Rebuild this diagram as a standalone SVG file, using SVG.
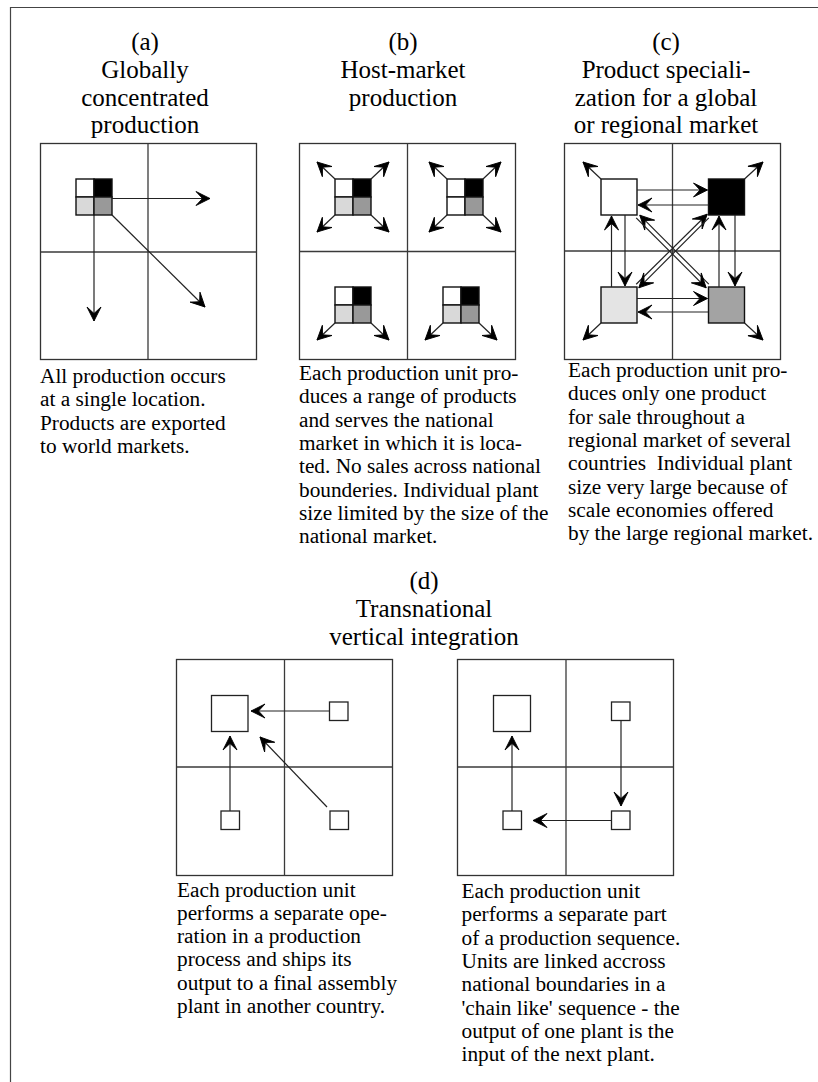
<svg xmlns="http://www.w3.org/2000/svg" width="818" height="1082" viewBox="0 0 818 1082">
<style>
  .t { font-family: "Liberation Serif", "Times New Roman", serif; fill: #000; }
  .title { font-size: 25px; text-anchor: middle; }
  .desc { font-size: 21.3px; white-space: pre; }
  .box { fill: none; stroke: #333; stroke-width: 1.3; }
  .div { stroke: #3a3a3a; stroke-width: 1.3; fill: none; }
  .cell { stroke: #111; stroke-width: 1.4; }
  .plant { fill: #fff; stroke: #222; stroke-width: 1.3; }
  .arr { stroke: #222; stroke-width: 1.2; fill: none; marker-end: url(#ah); }
  .w { fill: #fff; } .k { fill: #000; } .l { fill: #d9d9d9; } .g { fill: #999; }
</style>
<defs>
  <marker id="ah" markerUnits="userSpaceOnUse" viewBox="-16 -9 18 18" markerWidth="18" markerHeight="18" refX="0" refY="0" orient="auto">
    <path d="M0,0 L-14,-7 L-7.5,0 L-14,7 Z" fill="#000" stroke="#000" stroke-width="0.9" stroke-linejoin="miter"/>
  </marker>
</defs>
<rect width="818" height="1082" fill="#fff"/>
<g id="frame">
  <line x1="10" y1="7.5" x2="818" y2="7.5" stroke="#444" stroke-width="1.2"/>
  <line x1="10.5" y1="7" x2="10.5" y2="1082" stroke="#444" stroke-width="1.2"/>
</g>

<!-- Panel (a) -->
<g id="panel-a">
  <text class="t title" x="145" y="50">(a)</text>
  <text class="t title" x="145" y="78">Globally</text>
  <text class="t title" x="145" y="106">concentrated</text>
  <text class="t title" x="145" y="133">production</text>
  <rect class="box" x="40.5" y="143.5" width="216" height="216"/>
  <line class="div" x1="148" y1="143.5" x2="148" y2="359.5"/>
  <line class="div" x1="40.5" y1="252" x2="256.5" y2="252"/>
  <g id="a-plant">
    <rect class="cell w" x="76" y="179" width="18" height="18"/>
    <rect class="cell k" x="94" y="179" width="18" height="18"/>
    <rect class="cell l" x="76" y="197" width="18" height="18"/>
    <rect class="cell g" x="94" y="197" width="18" height="18"/>
  </g>
  <text class="t desc" x="40" y="383">All production occurs</text>
  <text class="t desc" x="40" y="406.3">at a single location.</text>
  <text class="t desc" x="40" y="429.6">Products are exported</text>
  <text class="t desc" x="40" y="452.9">to world markets.</text>
</g>

<!-- Panel (b) -->
<g id="panel-b">
  <text class="t title" x="403" y="50">(b)</text>
  <text class="t title" x="403" y="78">Host-market</text>
  <text class="t title" x="403" y="106">production</text>
  <rect class="box" x="299.5" y="143.5" width="216" height="216"/>
  <line class="div" x1="407.5" y1="143.5" x2="407.5" y2="359.5"/>
  <line class="div" x1="299.5" y1="251.5" x2="515.5" y2="251.5"/>
  <g id="b-plant-1">
    <rect class="cell w" x="335" y="179" width="18" height="18"/>
    <rect class="cell k" x="353" y="179" width="18" height="18"/>
    <rect class="cell l" x="335" y="197" width="18" height="18"/>
    <rect class="cell g" x="353" y="197" width="18" height="18"/>
  </g>
  <g id="b-plant-2">
    <rect class="cell w" x="447" y="179" width="18" height="18"/>
    <rect class="cell k" x="465" y="179" width="18" height="18"/>
    <rect class="cell w" x="447" y="197" width="18" height="18"/>
    <rect class="cell g" x="465" y="197" width="18" height="18"/>
  </g>
  <g id="b-plant-3">
    <rect class="cell w" x="335" y="287" width="18" height="18"/>
    <rect class="cell k" x="353" y="287" width="18" height="18"/>
    <rect class="cell l" x="335" y="305" width="18" height="18"/>
    <rect class="cell g" x="353" y="305" width="18" height="18"/>
  </g>
  <g id="b-plant-4">
    <rect class="cell w" x="443" y="287" width="18" height="18"/>
    <rect class="cell k" x="461" y="287" width="18" height="18"/>
    <rect class="cell l" x="443" y="305" width="18" height="18"/>
    <rect class="cell g" x="461" y="305" width="18" height="18"/>
  </g>
  <text class="t desc" x="299" y="380">Each production unit pro-</text>
  <text class="t desc" x="299" y="403.3">duces a range of products</text>
  <text class="t desc" x="299" y="426.6">and serves the national</text>
  <text class="t desc" x="299" y="449.9">market in which it is loca-</text>
  <text class="t desc" x="299" y="473.2">ted. No sales across national</text>
  <text class="t desc" x="299" y="496.5">bounderies. Individual plant</text>
  <text class="t desc" x="299" y="519.8">size limited by the size of the</text>
  <text class="t desc" x="299" y="543.1">national market.</text>
</g>

<!-- Panel (c) -->
<g id="panel-c">
  <text class="t title" x="666" y="50">(c)</text>
  <text class="t title" x="666" y="78">Product speciali-</text>
  <text class="t title" x="666" y="106">zation for a global</text>
  <text class="t title" x="666" y="133">or regional market</text>
  <rect class="box" x="564.5" y="143.5" width="216" height="216"/>
  <line class="div" x1="672.5" y1="143.5" x2="672.5" y2="359.5"/>
  <line class="div" x1="564.5" y1="251" x2="780.5" y2="251"/>
  <rect id="c-plant-1" class="cell w" x="601" y="179" width="36" height="36"/>
  <rect id="c-plant-2" class="cell k" x="708.5" y="179" width="36" height="36"/>
  <rect id="c-plant-3" class="cell" fill="#e4e4e4" x="601" y="287" width="36" height="36"/>
  <rect id="c-plant-4" class="cell" fill="#a3a3a3" x="708.5" y="287" width="36" height="36"/>
  <text class="t desc" x="568" y="377">Each production unit pro-</text>
  <text class="t desc" x="568" y="400.3">duces only one product</text>
  <text class="t desc" x="568" y="423.6">for sale throughout a</text>
  <text class="t desc" x="568" y="446.9">regional market of several</text>
  <text class="t desc" x="568" y="470.2">countries  Individual plant</text>
  <text class="t desc" x="568" y="493.5">size very large because of</text>
  <text class="t desc" x="568" y="516.8">scale economies offered</text>
  <text class="t desc" x="568" y="540.1">by the large regional market.</text>
</g>

<!-- Panel (d) -->
<g id="panel-d">
  <text class="t title" x="424" y="589">(d)</text>
  <text class="t title" x="424" y="617">Transnational</text>
  <text class="t title" x="424" y="645">vertical integration</text>
  <g id="d-left">
    <rect class="box" x="176.5" y="659.5" width="216" height="216"/>
    <line class="div" x1="284.5" y1="659.5" x2="284.5" y2="875.5"/>
    <line class="div" x1="176.5" y1="767" x2="392.5" y2="767"/>
    <rect id="dl-assembly" class="plant" x="211.5" y="695.5" width="36.5" height="36"/>
    <rect id="dl-unit-1" class="plant" x="329.5" y="702" width="18.5" height="18.5"/>
    <rect id="dl-unit-2" class="plant" x="221" y="811" width="18.5" height="18.5"/>
    <rect id="dl-unit-3" class="plant" x="330" y="811" width="18.5" height="18.5"/>
    <text class="t desc" x="177" y="896.5">Each production unit</text>
    <text class="t desc" x="177" y="919.8">performs a separate ope-</text>
    <text class="t desc" x="177" y="943.1">ration in a production</text>
    <text class="t desc" x="177" y="966.4">process and ships its</text>
    <text class="t desc" x="177" y="989.7">output to a final assembly</text>
    <text class="t desc" x="177" y="1013">plant in another country.</text>
  </g>
  <g id="d-right">
    <rect class="box" x="457.5" y="659.5" width="216" height="216"/>
    <line class="div" x1="566" y1="659.5" x2="566" y2="875.5"/>
    <line class="div" x1="457.5" y1="767" x2="673.5" y2="767"/>
    <rect id="dr-plant-1" class="plant" x="493.5" y="695.5" width="37" height="36"/>
    <rect id="dr-plant-2" class="plant" x="611.5" y="702" width="18.5" height="18.5"/>
    <rect id="dr-plant-3" class="plant" x="611.5" y="811" width="18.5" height="18.5"/>
    <rect id="dr-plant-4" class="plant" x="503" y="811" width="18.5" height="18.5"/>
    <text class="t desc" x="461.5" y="898">Each production unit</text>
    <text class="t desc" x="461.5" y="921.3">performs a separate part</text>
    <text class="t desc" x="461.5" y="944.6">of a production sequence.</text>
    <text class="t desc" x="461.5" y="967.9">Units are linked accross</text>
    <text class="t desc" x="461.5" y="991.2">national boundaries in a</text>
    <text class="t desc" x="461.5" y="1014.5">'chain like' sequence - the</text>
    <text class="t desc" x="461.5" y="1037.8">output of one plant is the</text>
    <text class="t desc" x="461.5" y="1061.1">input of the next plant.</text>
  </g>
</g>

<g id="connectors">
  <!-- (a) -->
  <line class="arr" x1="112" y1="198.5" x2="210" y2="198.5"/>
  <line class="arr" x1="94" y1="215" x2="94" y2="321"/>
  <line class="arr" x1="112" y1="215" x2="205" y2="307"/>
  <!-- (b) -->
  <line class="arr" x1="335" y1="179" x2="317" y2="162"/>
  <line class="arr" x1="371" y1="179" x2="389" y2="162"/>
  <line class="arr" x1="335" y1="215" x2="317" y2="232"/>
  <line class="arr" x1="371" y1="215" x2="389" y2="232"/>
  <line class="arr" x1="447" y1="179" x2="429" y2="162"/>
  <line class="arr" x1="483" y1="179" x2="501" y2="162"/>
  <line class="arr" x1="447" y1="215" x2="429" y2="232"/>
  <line class="arr" x1="483" y1="215" x2="501" y2="232"/>
  <line class="arr" x1="335" y1="323" x2="317" y2="340"/>
  <line class="arr" x1="371" y1="323" x2="389" y2="340"/>
  <line class="arr" x1="443" y1="323" x2="425" y2="340"/>
  <line class="arr" x1="479" y1="323" x2="497" y2="340"/>
  <!-- (c) outward -->
  <line class="arr" x1="601" y1="179" x2="583" y2="162"/>
  <line class="arr" x1="744.5" y1="179" x2="763" y2="162"/>
  <line class="arr" x1="601" y1="323" x2="583" y2="340"/>
  <line class="arr" x1="744.5" y1="323" x2="763" y2="340"/>
  <!-- (c) horizontal -->
  <line class="arr" x1="637" y1="190" x2="707.5" y2="190"/>
  <line class="arr" x1="708.5" y1="205" x2="638" y2="205"/>
  <line class="arr" x1="637" y1="298.5" x2="707.5" y2="298.5"/>
  <line class="arr" x1="708.5" y1="312" x2="638" y2="312"/>
  <!-- (c) vertical -->
  <line class="arr" x1="611.5" y1="287" x2="611.5" y2="216"/>
  <line class="arr" x1="625" y1="215" x2="625" y2="286"/>
  <line class="arr" x1="719" y1="287" x2="719" y2="216"/>
  <line class="arr" x1="735" y1="215" x2="735" y2="286"/>
  <!-- (c) diagonals -->
  <line class="arr" x1="708.8" y1="284.2" x2="639.8" y2="215.2"/>
  <line class="arr" x1="636.2" y1="217.8" x2="706.2" y2="287.8"/>
  <line class="arr" x1="636.2" y1="284.2" x2="707.2" y2="214.2"/>
  <line class="arr" x1="708.8" y1="217.8" x2="638.8" y2="287.8"/>
  <!-- (d) left -->
  <line class="arr" x1="329.5" y1="711" x2="251" y2="711"/>
  <line class="arr" x1="230" y1="811" x2="230" y2="736"/>
  <line class="arr" x1="327" y1="807" x2="260" y2="737"/>
  <!-- (d) right -->
  <line class="arr" x1="512" y1="811" x2="512" y2="736"/>
  <line class="arr" x1="621" y1="720.5" x2="621" y2="806"/>
  <line class="arr" x1="611.5" y1="820.5" x2="533" y2="820.5"/>
</g>
</svg>
